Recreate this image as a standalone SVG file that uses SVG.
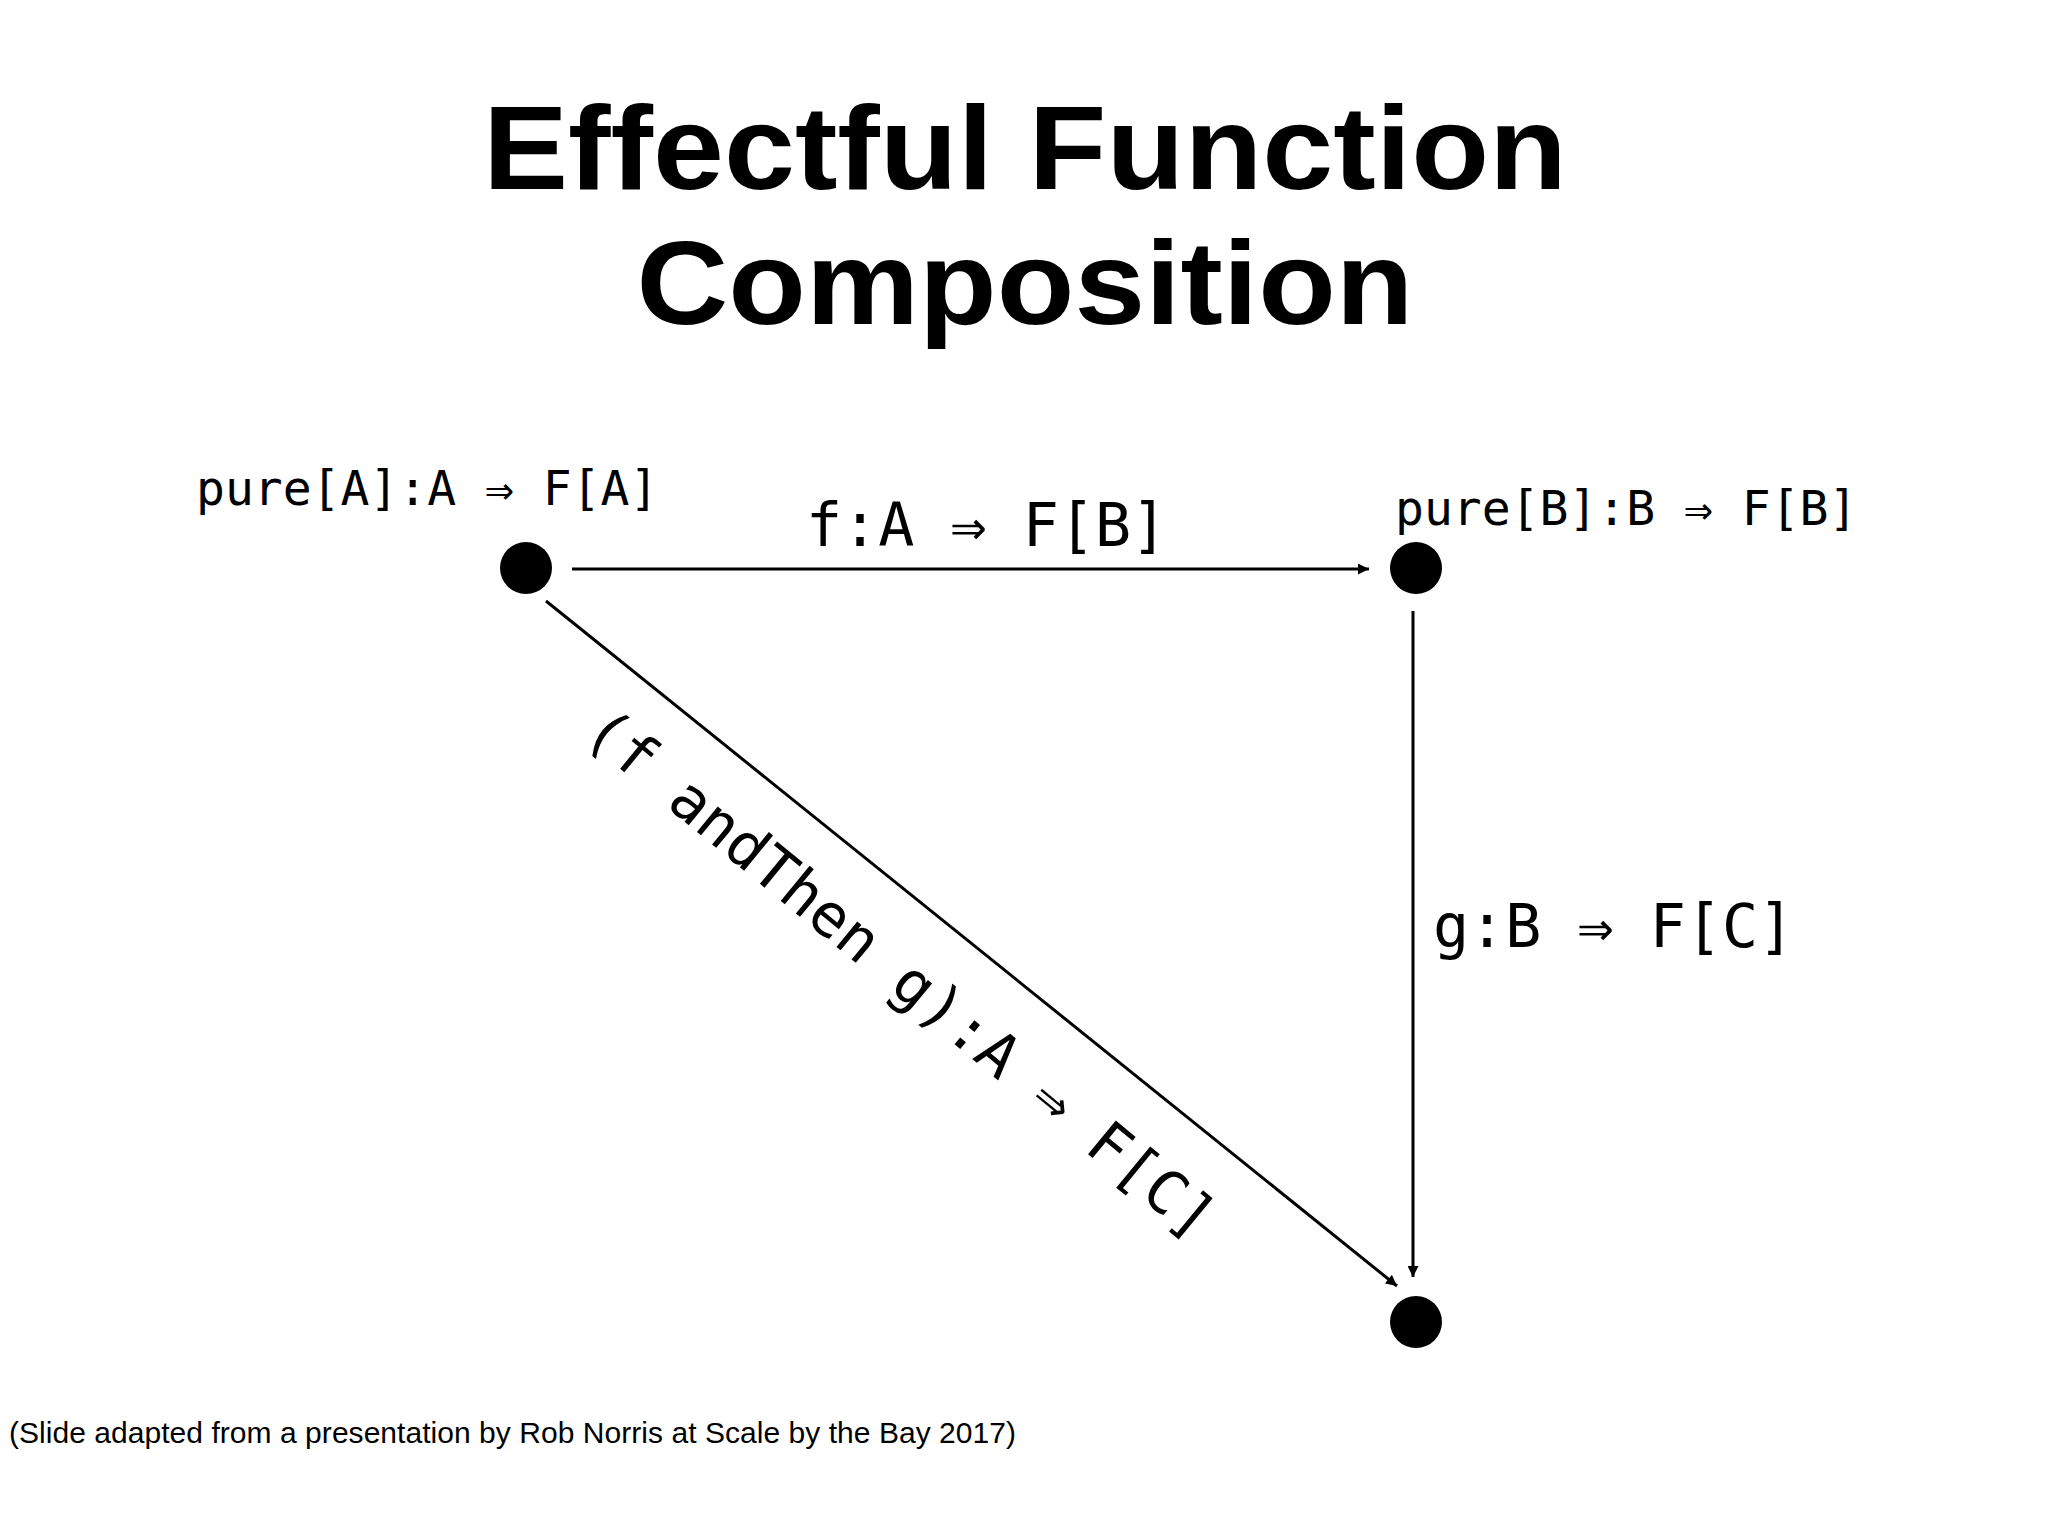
<svg xmlns="http://www.w3.org/2000/svg" width="2048" height="1536" viewBox="0 0 2048 1536">
<defs>
<marker id="ah" viewBox="0 0 10 10" refX="10" refY="5" markerWidth="14" markerHeight="11" markerUnits="userSpaceOnUse" orient="auto"><path d="M0,0 L10,5 L0,10 z" fill="#000"/></marker>
<style>
.t{font-family:"Liberation Sans",Arial,sans-serif;font-weight:bold;font-size:118px;text-anchor:middle}
.m{font-family:"DejaVu Sans Mono","Liberation Mono",monospace;fill:#000}
.e{stroke:#000;stroke-width:3;fill:none;marker-end:url(#ah)}
</style>
</defs>
<rect width="2048" height="1536" fill="#fff"/>
<text class="t" x="1025" y="189" textLength="1084" lengthAdjust="spacingAndGlyphs">Effectful Function</text>
<text class="t" x="1025" y="324" textLength="777" lengthAdjust="spacingAndGlyphs">Composition</text>
<g id="connectors">
<line class="e" x1="572" y1="569" x2="1369" y2="569"/>
<line class="e" x1="1413" y1="611" x2="1413" y2="1277"/>
<line class="e" x1="546" y1="601" x2="1397" y2="1286"/>
</g>
<g id="nodeA"><circle cx="526" cy="568" r="26"/><text class="m" x="196" y="505" font-size="48">pure[A]:A ⇒ F[A]</text></g>
<g id="nodeB"><circle cx="1416" cy="568" r="26"/><text class="m" x="1395" y="525" font-size="48">pure[B]:B ⇒ F[B]</text></g>
<g id="nodeC"><circle cx="1416" cy="1322" r="26"/></g>
<g id="labels">
<text class="m" x="806" y="546" font-size="60">f:A ⇒ F[B]</text>
<text class="m" x="1433" y="947" font-size="60">g:B ⇒ F[C]</text>
<text class="m" x="901" y="973" font-size="60" text-anchor="middle" dominant-baseline="central" transform="rotate(39.5 901 973)">(f andThen g):A ⇒ F[C]</text>
</g>
<text x="9" y="1443" font-family="'Liberation Sans',Arial,sans-serif" font-size="30" textLength="1007">(Slide adapted from a presentation by Rob Norris at Scale by the Bay 2017)</text>
</svg>
